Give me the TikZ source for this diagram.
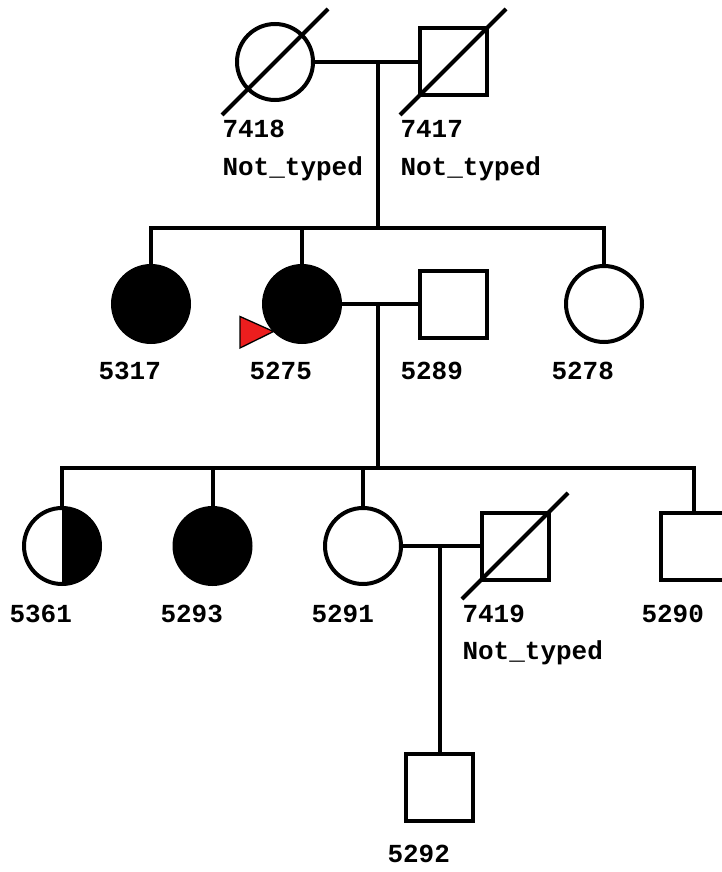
\documentclass[tikz,border=0pt]{standalone}
\usepackage{fontspec}
\setmonofont{Liberation Mono}
\usetikzlibrary{calc}
\definecolor{pedred}{RGB}{236,30,30}
\begin{document}
\begin{tikzpicture}[x=1pt,y=-1pt,line width=4pt,
  fem/.style={circle,draw,minimum size=76pt,inner sep=0pt,outer sep=0pt},
  mal/.style={rectangle,draw,minimum size=67pt,inner sep=0pt,outer sep=0pt},
  aff/.style={fill=black},
  halfaff/.style={path picture={\fill (path picture bounding box.north) rectangle (path picture bounding box.south east);}},
  lbl/.style={anchor=base west,inner sep=0pt,xshift=-2.5pt,font=\fontsize{26pt}{30pt}\selectfont\ttfamily\bfseries},
  slash/.style={line width=4pt},
  proband/.style={draw=black,line width=1.3pt,fill=pedred}]
\useasboundingbox (0,0) rectangle (722,872);
% generation 1
\node[fem] (f7418) at (275,62) {};
\node[mal] (m7417) at (453,62) {};
\draw[slash] ($(f7418.center)+(-53,53)$) -- ($(f7418.center)+(53,-53)$);
\draw[slash] ($(m7417.center)+(-53,53)$) -- ($(m7417.center)+(53,-53)$);
\coordinate (u1) at (378,62);
\coordinate (s1) at (378,228);
\draw (f7418.east) -- (m7417.west);
\draw (u1) -- (s1);
\node[lbl] (l7418) at (223,138) {7418};
\node[lbl] (n7418) at (223,175) {Not\_typed};
\node[lbl] (l7417) at (401,138) {7417};
\node[lbl] (n7417) at (401,175) {Not\_typed};
% generation 2
\node[fem,aff] (f5317) at (151,304) {};
\node[fem,aff] (f5275) at (302,304) {};
\node[mal] (m5289) at (453,304) {};
\node[fem] (f5278) at (604,304) {};
\draw (f5317.north) |- (s1) -| (f5278.north);
\draw (f5275.north) -- (f5275.north |- s1);
\coordinate (u2) at (378,304);
\coordinate (s2) at (378,468);
\draw (f5275.east) -- (m5289.west);
\draw (u2) -- (s2);
\draw[proband] (240,316.5) -- (240,348) -- (273.5,331.5) -- cycle;
\node[lbl] (l5317) at (99,379) {5317};
\node[lbl] (l5275) at (250,379) {5275};
\node[lbl] (l5289) at (401,379) {5289};
\node[lbl] (l5278) at (552,379) {5278};
% generation 3
\node[fem,halfaff] (f5361) at (62,546) {};
\node[fem,aff] (f5293) at (212.5,546) {};
\node[fem] (f5291) at (363,546) {};
\node[mal] (m7419) at (515,546) {};
\node[mal] (m5290) at (694,546) {};
\draw[slash] ($(m7419.center)+(-53,53)$) -- ($(m7419.center)+(53,-53)$);
\draw (f5361.north) |- (s2) -| (m5290.north);
\draw (f5293.north) -- (f5293.north |- s2);
\draw (f5291.north) -- (f5291.north |- s2);
\coordinate (u3) at (439.5,546);
\draw (f5291.east) -- (m7419.west);
\node[lbl] (l5361) at (10,622) {5361};
\node[lbl] (l5293) at (161,622) {5293};
\node[lbl] (l5291) at (312,622) {5291};
\node[lbl] (l7419) at (463,622) {7419};
\node[lbl] (n7419) at (463,659) {Not\_typed};
\node[lbl] (l5290) at (642,622) {5290};
% generation 4
\node[mal] (m5292) at (439.5,787) {};
\draw (u3) -- (m5292.north);
\node[lbl] (l5292) at (388,862) {5292};
\end{tikzpicture}
\end{document}
